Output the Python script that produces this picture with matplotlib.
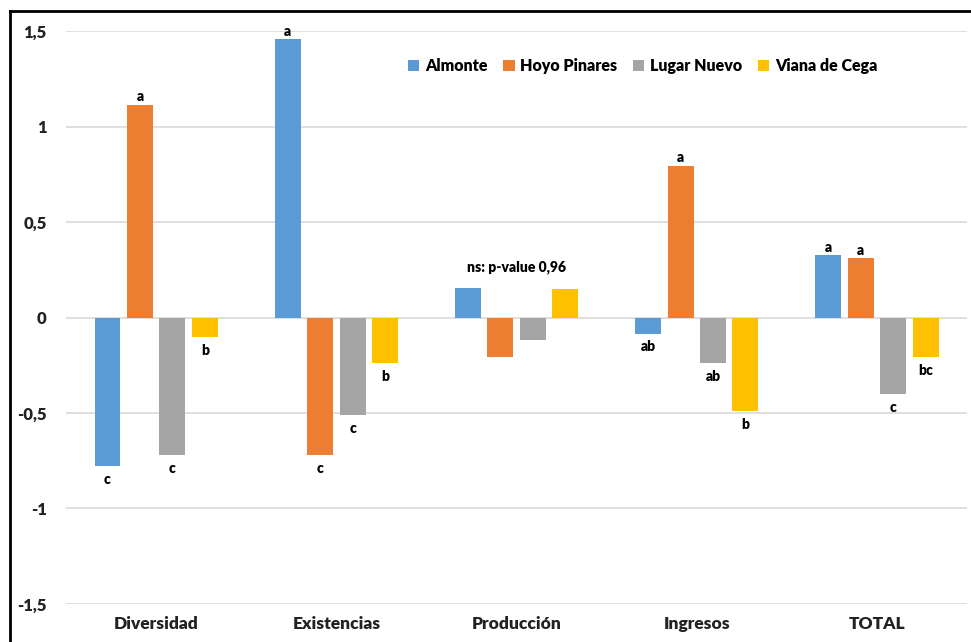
import matplotlib.pyplot as plt
import numpy as np
from matplotlib.lines import Line2D

plt.rcParams['font.family'] = ['Lato', 'DejaVu Sans']

categorias = ["Diversidad", "Existencias", "Producción", "Ingresos", "TOTAL"]
sitios = ["Almonte", "Hoyo Pinares", "Lugar Nuevo", "Viana de Cega"]
colores = ["#5B9BD5", "#ED7D31", "#A5A5A5", "#FFC000"]

almonte = [-0.78, 1.457, 0.153, -0.084, 0.326]
hoyo_pinares = [1.115, -0.72, -0.205, 0.795, 0.31]
lugar_nuevo = [-0.72, -0.51, -0.12, -0.237, -0.40]
viana_cega = [-0.10, -0.237, 0.147, -0.49, -0.205]

# letras de significancia (Producción sin letras)
letras_almonte = ["c", "a", "", "ab", "a"]
letras_hoyo = ["a", "c", "", "a", "a"]
letras_lugar = ["c", "c", "", "ab", "c"]
letras_viana = ["b", "b", "", "b", "bc"]

series = [almonte, hoyo_pinares, lugar_nuevo, viana_cega]
letras = [letras_almonte, letras_hoyo, letras_lugar, letras_viana]

fig = plt.figure(figsize=(9.71, 6.42), dpi=100)
ax = fig.add_axes([0.068, 0.0592, 0.928, 0.8925])

x = np.arange(len(categorias))
paso = 0.18
ancho = 0.144
for j in range(len(sitios)):
    pos = x + (j - 1.5) * paso
    ax.bar(pos, series[j], ancho, color=colores[j], label=sitios[j], zorder=3)
    for i in range(len(categorias)):
        if letras[j][i] == "":
            continue
        v = series[j][i]
        if v >= 0:
            ax.annotate(letras[j][i], (pos[i], v), xytext=(0, 1), textcoords="offset points",
                        ha="center", va="bottom", fontsize=10, fontweight="heavy")
        else:
            ax.annotate(letras[j][i], (pos[i], v), xytext=(0, -5), textcoords="offset points",
                        ha="center", va="top", fontsize=10, fontweight="heavy")

ax.text(2, 0.23, "ns: p-value 0,96", ha="center", va="bottom", fontsize=10, fontweight="heavy")

ax.set_ylim(-1.5, 1.5)
ax.set_xlim(-0.5, 4.5)
ax.set_yticks([-1.5, -1, -0.5, 0, 0.5, 1, 1.5])
ax.set_yticklabels(["-1,5", "-1", "-0,5", "0", "0,5", "1", "1,5"])
ax.set_xticks(x)
ax.set_xticklabels(categorias)
for lab in ax.get_xticklabels():
    lab.set_fontweight("heavy")
    lab.set_fontsize(12.5)
for lab in ax.get_yticklabels():
    lab.set_fontweight("heavy")
    lab.set_fontsize(12)
ax.tick_params(axis="both", length=0, colors="#222222")
ax.tick_params(axis="y", pad=14)
ax.tick_params(axis="x", pad=9)
ax.yaxis.grid(True, color="#d9d9d9", linewidth=1.2, zorder=0)
for s in ax.spines.values():
    s.set_visible(False)

ax.legend(loc="center", bbox_to_anchor=(0.64, 0.939), ncol=4, frameon=False,
          handlelength=0.7, handleheight=0.7, handletextpad=0.35, columnspacing=1.0,
          prop={"weight": "heavy", "size": 11.5})

# marco de la figura
fig.add_artist(Line2D([0.0103, 0.0103], [0, 0.983], color="black", linewidth=2, transform=fig.transFigure))
fig.add_artist(Line2D([0.0103, 1], [0.983, 0.983], color="black", linewidth=2, transform=fig.transFigure))

fig.savefig("out.png", dpi=100)
